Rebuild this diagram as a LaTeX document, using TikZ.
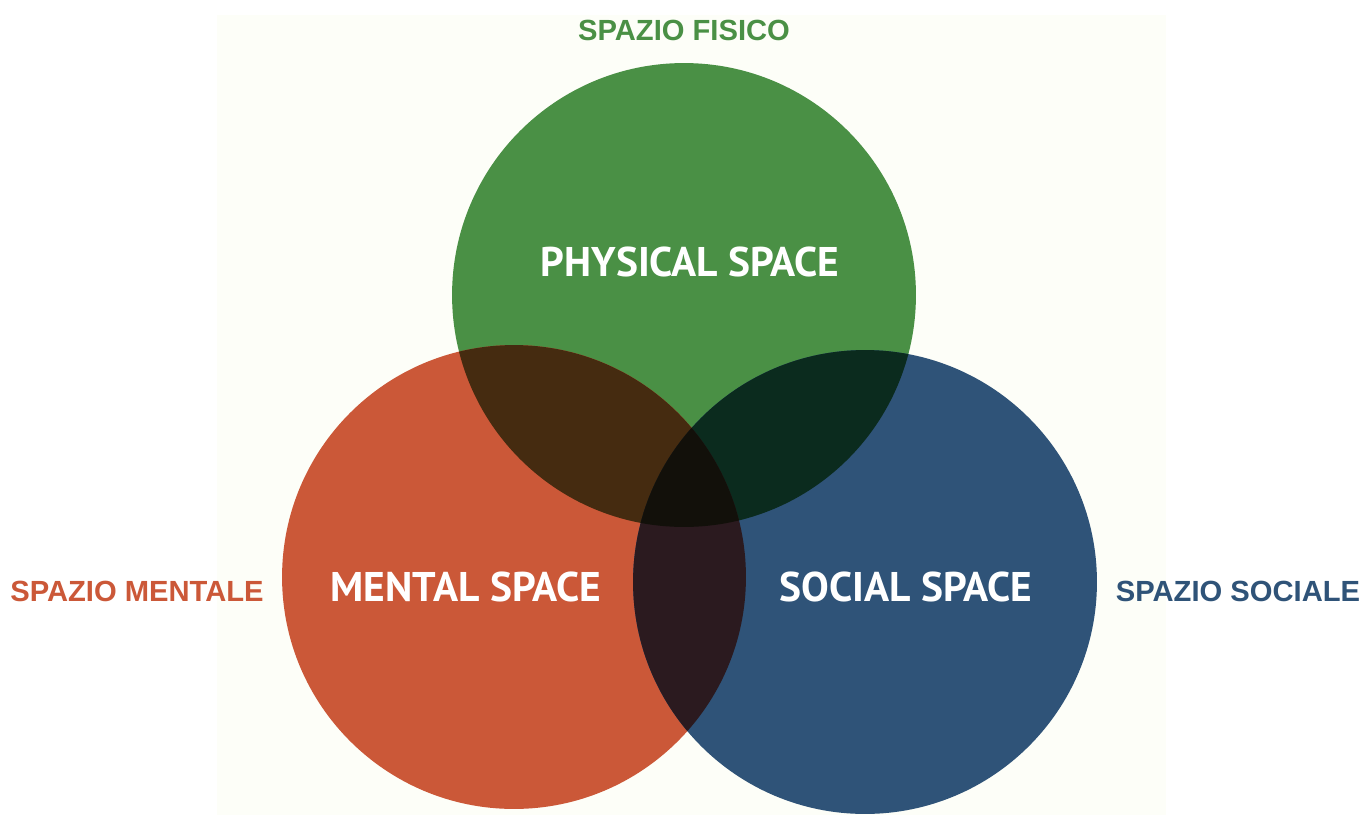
\documentclass[tikz,border=0pt]{standalone}
\usepackage{fontspec}
\setmainfont{Liberation Sans}
\newfontfamily\spacefont{PT Sans}
\usetikzlibrary{positioning}
\definecolor{physgreen}{HTML}{4A9045}
\definecolor{mentred}{HTML}{CB5838}
\definecolor{socblue}{HTML}{2F5378}
\definecolor{pmcol}{HTML}{452B10}
\definecolor{pscol}{HTML}{0B2B1E}
\definecolor{mscol}{HTML}{2B1A1F}
\definecolor{allcol}{HTML}{12100A}
\definecolor{cream}{HTML}{FDFEF8}
\tikzset{incircle/.style={text=white,font=\spacefont\bfseries\fontsize{23.6}{28}\selectfont},
  outlabel/.style={font=\bfseries\fontsize{16.6}{19}\selectfont}}
\def\rad{4.64cm}

\begin{document}
\begin{tikzpicture}[x=0.02cm,y=-0.02cm]
\useasboundingbox (0,0) rectangle (1365,815);
\fill[white] (0,0) rectangle (1365,815);
\fill[cream] (217,15) rectangle (1166,815);
\coordinate (phys) at (684,295);
\coordinate (ment) at (514,577);
\coordinate (soc) at (865,582);
% the three spaces
\fill[physgreen] (phys) circle (\rad);
\fill[mentred] (ment) circle (\rad);
\fill[socblue] (soc) circle (\rad);
% overlaps
\begin{scope}
\clip (phys) circle (\rad);
\fill[pmcol] (ment) circle (\rad);
\fill[pscol] (soc) circle (\rad);
\end{scope}
\begin{scope}
\clip (ment) circle (\rad);
\fill[mscol] (soc) circle (\rad);
\clip (phys) circle (\rad);
\fill[allcol] (soc) circle (\rad);
\end{scope}
\node[incircle] (physlbl) at (690,262) {PHYSICAL SPACE};
\node[incircle] (mentlbl) at (466,587) {MENTAL SPACE};
\node[incircle] (soclbl) at (906,587) {SOCIAL SPACE};
\node[outlabel,text=physgreen] (fisico) at (684,30) {SPAZIO FISICO};
\node[outlabel,text=mentred] (mentale) at (137,591) {SPAZIO MENTALE};
\node[outlabel,text=socblue] (sociale) at (1238,591) {SPAZIO SOCIALE};
\end{tikzpicture}
\end{document}
